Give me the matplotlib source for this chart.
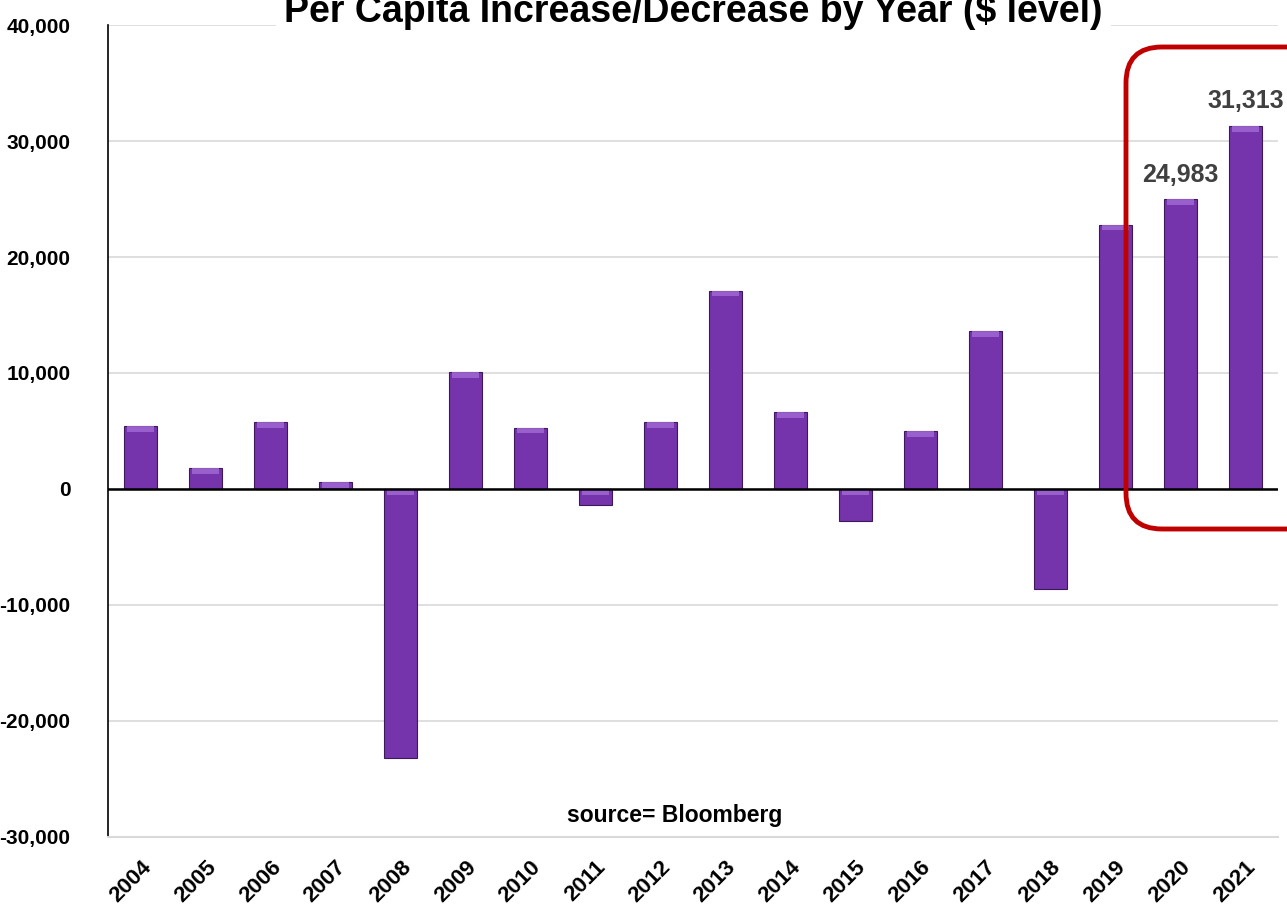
import matplotlib
matplotlib.use("Agg")
import matplotlib.pyplot as plt
from matplotlib.patches import FancyBboxPatch
from matplotlib.transforms import IdentityTransform
from matplotlib.ticker import FuncFormatter, MultipleLocator
import numpy as np

years = ["2004", "2005", "2006", "2007", "2008", "2009", "2010", "2011", "2012",
         "2013", "2014", "2015", "2016", "2017", "2018", "2019", "2020", "2021"]
change = [5400, 1800, 5800, 600, -23200, 10100, 5300, -1400, 5800,
          17100, 6600, -2800, 5000, 13600, -8600, 22800, 24983, 31313]
labelled = ["2020", "2021"]

plt.rcParams["font.family"] = ["Liberation Sans Narrow", "Liberation Sans", "DejaVu Sans"]
plt.rcParams["font.weight"] = "bold"

W, H = 1287, 923
fig = plt.figure(figsize=(W / 100, H / 100), dpi=100)
ax = fig.add_axes([0.0839, 0.0932, 0.909, 0.8797])

x = np.arange(len(years))
vals = np.array(change, dtype=float)
ax.bar(x, vals, width=0.5, color="#7634AC", edgecolor="#3c1a5a", linewidth=0.8, zorder=3)

# lighter band along the upper face of each bar for a bevelled look
top = np.maximum(vals, 0)
band = np.minimum(np.abs(vals), 500)
ax.bar(x, band, bottom=top - band, width=0.42, color="#a36bd6", linewidth=0,
       zorder=4, alpha=0.8)

ax.set_xlim(-0.5, len(years) - 0.5)
ax.set_ylim(-30000, 40000)
ax.yaxis.set_major_locator(MultipleLocator(10000))
ax.yaxis.set_major_formatter(FuncFormatter(lambda v, p: f"{int(v):,}"))
ax.grid(axis="y", color="#d9d9d9", linewidth=1.2, zorder=0)
ax.set_axisbelow(True)
ax.axhline(0, color="black", linewidth=1.8, zorder=5)

ax.set_xticks(x)
ax.set_xticklabels(years, rotation=45, ha="right", rotation_mode="anchor",
                   fontsize=16, fontweight="bold")
ax.tick_params(axis="x", length=0, pad=14)
ax.tick_params(axis="y", length=0, pad=27, labelsize=15)
for t in ax.get_yticklabels():
    t.set_fontweight("bold")

for s in ["top", "right"]:
    ax.spines[s].set_visible(False)
ax.spines["left"].set_color("black")
ax.spines["left"].set_linewidth(1.2)
ax.spines["bottom"].set_color("#d9d9d9")
ax.spines["bottom"].set_linewidth(1.5)

for yr, v in zip(years, change):
    if yr in labelled:
        i = years.index(yr)
        ax.annotate(f"{v:,}", (i, v), xytext=(0, 9), textcoords="offset points",
                    ha="center", va="bottom", fontsize=18, fontweight="bold",
                    color="#404040", zorder=6)

ax.text(0.484, 0.027, "source= Bloomberg", transform=ax.transAxes, ha="center",
        va="center", fontsize=16.5, fontweight="bold", color="black")

fig.text(0.5385, 0.987, "Per Capita Increase/Decrease by Year ($ level)",
         ha="center", va="center", fontsize=27, fontweight="bold",
         bbox=dict(facecolor="white", edgecolor="none", pad=6), zorder=10)

# rounded highlight box around the last two years (pixel coordinates)
x0, x1, y_top, y_bot = 1126, 1330, 47, 529
box = FancyBboxPatch((x0, H - y_bot), x1 - x0, y_bot - y_top,
                     boxstyle="round,pad=0,rounding_size=36",
                     transform=IdentityTransform(), facecolor="none",
                     edgecolor="#C00000", linewidth=3.5, zorder=20, clip_on=False)
fig.patches.append(box)

fig.savefig("out.png", dpi=100)
